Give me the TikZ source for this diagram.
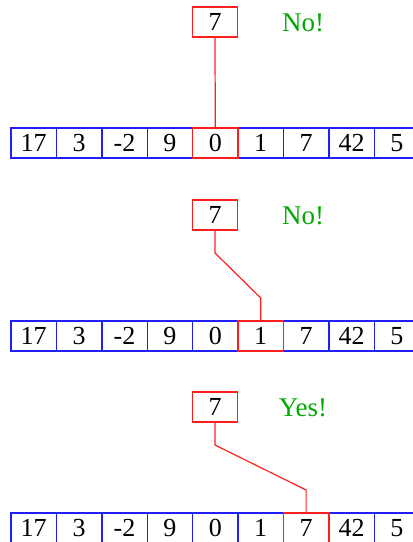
\documentclass[tikz,border=0pt]{standalone}
\usepackage{fontspec}
\setmainfont{Liberation Serif}
\usetikzlibrary{positioning}

\definecolor{okgreen}{RGB}{0,170,0}
\definecolor{cellblue}{RGB}{30,30,255}
\definecolor{keyred}{RGB}{255,30,30}
\tikzset{
  cell/.style={draw=cellblue, line width=0.7pt, minimum width=22.7pt, minimum height=15pt,
    inner sep=0pt, outer sep=0pt, anchor=north west, font=\fontsize{13}{15}\selectfont},
  probe/.style={cell, draw=keyred},
  verdict/.style={text=okgreen, font=\fontsize{13.5}{15}\selectfont},
}

\begin{document}
\begin{tikzpicture}[x=0.5pt, y=-0.5pt]
  \useasboundingbox (0,0) rectangle (413,542);

  % Three steps of the search
  \foreach \p/\ytop/\hit/\ans in {1/7/4/No!, 2/200/5/No!, 3/392/6/Yes!} {
    % Array
    \foreach \v [count=\i from 0] in {17,3,-2,9,0,1,7,42,5}
      \node[cell] (c\p-\i) at (11+45.4*\i, \ytop+121) {\v};
    \node[probe] (h\p) at (c\p-\hit.north west) {};

    % Key and answer
    \node[probe] (q\p) at (192.3, \ytop) {7};
    \node[verdict] (v\p) at (303, \ytop+15.5) {\ans};

    % Drawing
    \draw[keyred, line width=0.6pt] (q\p.south) -- ++(0,23)
      -- ([yshift=11.5pt]h\p.north) -- (h\p.north);
  }
\end{tikzpicture}
\end{document}
